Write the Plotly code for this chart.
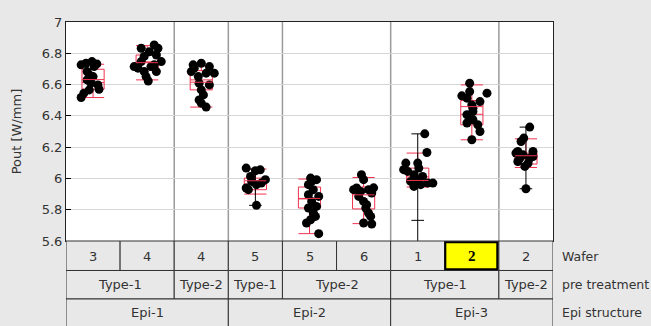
import plotly.graph_objects as go

# ---------------- data ----------------
wafer = ["3", "4", "4", "5", "5", "6", "1", "2", "2"]
pretreat = ["Type-1", "Type-1", "Type-2", "Type-1", "Type-2", "Type-2", "Type-1", "Type-1", "Type-2"]
epi = ["Epi-1", "Epi-1", "Epi-1", "Epi-2", "Epi-2", "Epi-2", "Epi-3", "Epi-3", "Epi-3"]
row_names = ["Wafer", "pre treatment", "Epi structure"]
highlight = 7

y_ticks = [5.6, 5.8, 6.0, 6.2, 6.4, 6.6, 6.8, 7.0]
y_tick_text = ["5.6", "5.8", "6", "6.2", "6.4", "6.6", "6.8", "7"]

# box statistics (red)
q1 = [6.571, 6.694, 6.566, 5.928, 5.811, 5.805, 5.975, 6.343, 6.092]
median = [6.613, 6.745, 6.630, 5.964, 5.869, 5.910, 6.010, 6.410, 6.124]
q3 = [6.698, 6.789, 6.689, 6.002, 5.945, 5.945, 6.066, 6.498, 6.162]
lowerfence = [6.517, 6.630, 6.456, 5.900, 5.647, 5.711, 5.945, 6.247, 6.070]
upperfence = [6.730, 6.849, 6.721, 6.060, 5.996, 6.006, 6.162, 6.598, 6.253]
mean = [6.632, 6.740, 6.615, 5.985, 5.872, 5.895, 5.987, 6.459, 6.145]

# black whisker ends (None = not shown)
black_hi = [None, None, None, 6.060, None, None, 6.285, None, 6.328]
black_lo = [None, None, None, 5.828, None, None, 5.732, None, 5.934]

# measured points: values and horizontal jitter (fraction of a category)
g1_y = [6.726, 6.736, 6.747, 6.732, 6.683, 6.662, 6.651, 6.630, 6.609, 6.598, 6.570, 6.566, 6.545, 6.517, 6.715]
g1_dx = [-0.22, -0.13, -0.02, 0.07, -0.11, -0.07, 0.0, -0.11, -0.04, 0.09, 0.11, -0.07, -0.17, -0.22, 0.02]
g2_y = [6.832, 6.853, 6.832, 6.810, 6.789, 6.780, 6.747, 6.747, 6.715, 6.705, 6.715, 6.726, 6.683, 6.683, 6.651, 6.623]
g2_dx = [-0.11, 0.13, 0.20, 0.04, 0.17, -0.055, -0.11, 0.26, -0.24, -0.17, 0.07, 0.13, -0.055, 0.17, -0.02, 0.02]
g3_y = [6.726, 6.736, 6.715, 6.683, 6.673, 6.673, 6.651, 6.609, 6.598, 6.566, 6.534, 6.502, 6.481, 6.456, 6.705]
g3_dx = [-0.15, 0.0, 0.15, -0.185, 0.24, 0.09, -0.055, -0.04, 0.15, 0.0, 0.04, -0.04, 0.0, 0.09, -0.13]
g4_y = [6.066, 6.049, 6.055, 6.013, 5.992, 5.939, 5.960, 5.970, 5.981, 5.828, 5.928]
g4_dx = [-0.17, 0.0, 0.09, -0.09, 0.185, -0.17, 0.02, 0.11, -0.07, 0.02, -0.13]
g5_y = [6.002, 5.992, 5.960, 5.928, 5.896, 5.885, 5.853, 5.821, 5.811, 5.757, 5.736, 5.715, 5.647, 5.779, 5.981]
g5_dx = [0.02, 0.13, -0.02, 0.07, -0.02, 0.17, 0.04, 0.13, -0.02, 0.11, 0.02, -0.055, 0.17, 0.07, 0.04]
g6_y = [6.024, 5.992, 5.939, 5.917, 5.928, 5.907, 5.885, 5.853, 5.811, 5.779, 5.757, 5.715, 5.709, 5.832, 5.928, 5.940]
g6_dx = [-0.04, 0.0, -0.13, -0.055, 0.09, 0.15, -0.09, 0.0, 0.04, 0.09, 0.13, 0.0, 0.15, 0.055, -0.185, 0.185]
g7_y = [6.285, 6.166, 6.098, 6.056, 6.045, 6.098, 6.066, 6.024, 6.013, 5.981, 5.949, 5.970, 5.970, 5.960, 5.992, 5.450]
g7_dx = [0.13, 0.17, -0.22, -0.26, -0.185, 0.0, 0.02, -0.07, 0.09, -0.13, -0.07, 0.185, 0.28, 0.055, 0.0, 0.03]
g8_y = [6.609, 6.545, 6.528, 6.513, 6.491, 6.470, 6.449, 6.428, 6.407, 6.375, 6.354, 6.343, 6.300, 6.247, 6.555]
g8_dx = [-0.04, 0.28, -0.185, -0.09, 0.15, 0.0, 0.02, 0.02, -0.09, 0.02, -0.09, 0.11, 0.15, 0.0, -0.04]
g9_y = [6.328, 6.258, 6.236, 6.172, 6.162, 6.172, 6.151, 6.130, 6.130, 6.108, 6.098, 6.077, 5.934, 6.140]
g9_dx = [0.07, -0.04, -0.09, -0.15, -0.185, 0.13, -0.055, 0.07, -0.11, -0.15, 0.04, -0.02, 0.0, 0.13]

groups_y = [g1_y, g2_y, g3_y, g4_y, g5_y, g6_y, g7_y, g8_y, g9_y]
groups_dx = [g1_dx, g2_dx, g3_dx, g4_dx, g5_dx, g6_dx, g7_dx, g8_dx, g9_dx]

# ---------------- style ----------------
BG = "#e8e8e8"
RED = "#f0334f"
FONT = "DejaVu Sans"
TXT = "#333333"
n = len(wafer)

fig = go.Figure()

# points
px, py = [], []
for i, (ys, dxs) in enumerate(zip(groups_y, groups_dx)):
    for y, d in zip(ys, dxs):
        px.append(i + d)
        py.append(y)
fig.add_trace(go.Scatter(x=px, y=py, mode="markers",
                         marker=dict(color="black", size=9, line=dict(width=0)),
                         hoverinfo="skip", showlegend=False))

# black whiskers
lx, ly, cx, cy = [], [], [], []
for i in range(n):
    if black_hi[i] is None and black_lo[i] is None:
        continue
    lo_vals = groups_y[i] + ([black_lo[i]] if black_lo[i] is not None else [])
    hi_vals = groups_y[i] + ([black_hi[i]] if black_hi[i] is not None else [])
    lx += [i, i, None]
    ly += [min(lo_vals), max(hi_vals), None]
    for v in (black_lo[i], black_hi[i]):
        if v is not None:
            cx.append(i)
            cy.append(v)
fig.add_trace(go.Scatter(x=lx, y=ly, mode="lines", line=dict(color="black", width=1),
                         hoverinfo="skip", showlegend=False))
fig.add_trace(go.Scatter(x=cx, y=cy, mode="markers",
                         marker=dict(symbol="line-ew", size=9, line=dict(color="black", width=1)),
                         hoverinfo="skip", showlegend=False))

# red boxes
fig.add_trace(go.Box(x=list(range(n)), q1=q1, median=median, q3=q3,
                     lowerfence=lowerfence, upperfence=upperfence,
                     width=0.41, whiskerwidth=1, fillcolor="rgba(0,0,0,0)",
                     line=dict(color=RED, width=1), boxpoints=False,
                     hoverinfo="skip", showlegend=False))
fig.add_trace(go.Scatter(x=list(range(n)), y=mean, mode="markers",
                         marker=dict(symbol="line-ew", size=15.5, line=dict(color=RED, width=1)),
                         hoverinfo="skip", showlegend=False))

# ---------------- table below plot ----------------
shapes = []
annotations = []
row_top = [0.0, -0.1347, -0.2648]
row_bot = [-0.1347, -0.2648, -0.40]
row_mid = [-0.0685, -0.2009, -0.3265]


def spans(labels):
    out = []
    start = 0
    for k in range(1, len(labels) + 1):
        if k == len(labels) or labels[k] != labels[start]:
            out.append((start, k - 1, labels[start]))
            start = k
    return out


rows = [[(i, i, w) for i, w in enumerate(wafer)], spans(pretreat), spans(epi)]
for r, cells in enumerate(rows):
    for a, b, lab in cells:
        shapes.append(dict(type="rect", xref="x", yref="paper", x0=a - 0.5, x1=b + 0.5,
                           y0=row_bot[r], y1=row_top[r], line=dict(color="#333333", width=1),
                           fillcolor=BG, layer="above"))
        if not (r == 0 and a == highlight):
            annotations.append(dict(x=(a + b) / 2, y=row_mid[r], xref="x", yref="paper",
                                    text=lab, showarrow=False, xanchor="center", yanchor="middle",
                                    font=dict(family=FONT, size=13, color=TXT)))
    annotations.append(dict(x=1.014, y=row_mid[r], xref="paper", yref="paper",
                            text=row_names[r], showarrow=False, xanchor="left", yanchor="middle",
                            font=dict(family=FONT, size=12.5, color=TXT)))

# highlighted wafer cell
shapes.append(dict(type="rect", xref="x", yref="paper", x0=highlight - 0.49, x1=highlight + 0.47,
                   y0=row_bot[0] + 0.006, y1=row_top[0] - 0.006,
                   line=dict(color="black", width=2), fillcolor="#ffff00", layer="above"))
annotations.append(dict(x=highlight, y=row_mid[0], xref="x", yref="paper",
                        text="<b>" + wafer[highlight] + "</b>", showarrow=False,
                        xanchor="center", yanchor="middle",
                        font=dict(family="Liberation Serif", size=15, color="black")))

# vertical separators in plot at pre-treatment boundaries
for a, b, lab in spans(pretreat)[:-1]:
    shapes.append(dict(type="line", xref="x", yref="paper", x0=b + 0.5, x1=b + 0.5,
                       y0=0, y1=1, line=dict(color="#9a9a9a", width=1.5), layer="between"))

fig.update_layout(
    width=651, height=326,
    margin=dict(l=66, r=98, t=22, b=85),
    paper_bgcolor=BG, plot_bgcolor="white",
    font=dict(family=FONT, size=13, color=TXT),
    shapes=shapes, annotations=annotations,
    showlegend=False,
)
fig.update_xaxes(range=[-0.5, n - 0.5], showticklabels=False, showgrid=False, zeroline=False,
                 showline=True, linecolor="#222222", linewidth=1, mirror=True, ticks="")
fig.update_yaxes(range=[5.6, 7.0], tickvals=y_ticks, ticktext=y_tick_text,
                 showgrid=True, gridcolor="#d6d6d6", gridwidth=1, zeroline=False,
                 showline=True, linecolor="#222222", linewidth=1, mirror=True,
                 ticks="inside", ticklen=5, tickcolor="black",
                 tickfont=dict(family=FONT, size=13, color=TXT),
                 title=dict(text="Pout [W/mm]", font=dict(family=FONT, size=13, color=TXT), standoff=17),
                 automargin=False)

fig.write_html("out.html", config={"displayModeBar": False},
               post_script="document.body.style.margin='0';document.body.style.background='" + BG + "';")
